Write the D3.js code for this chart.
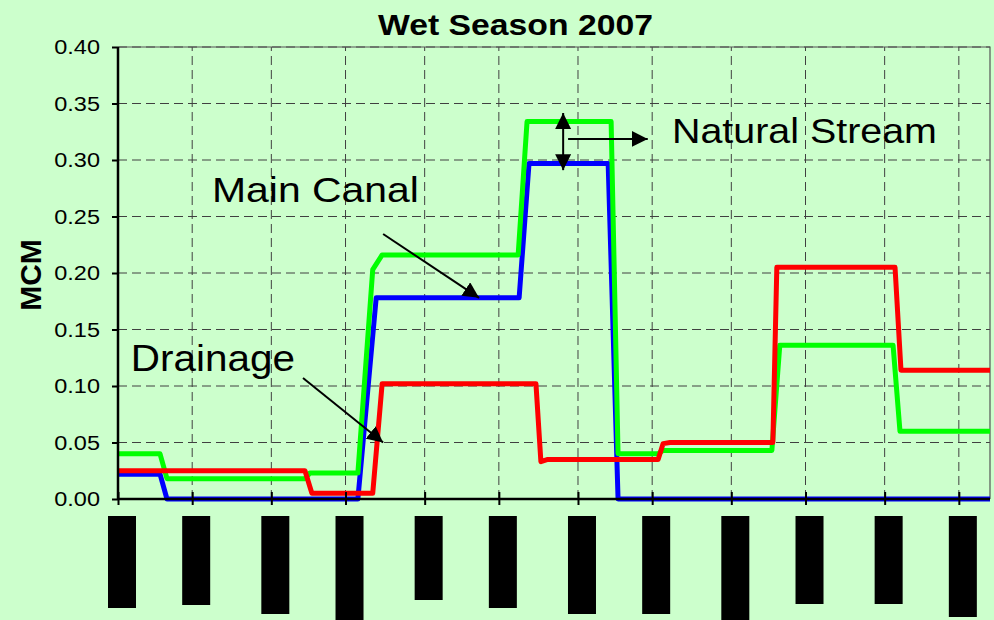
<!DOCTYPE html>
<html>
<head>
<meta charset="utf-8">
<script src="https://cdn.jsdelivr.net/npm/d3@7"></script>
<style>
body { margin: 0; background: #ccffcc; }
svg { display: block; }
text { font-family: Arial, "Liberation Sans", sans-serif; fill: #000; }
</style>
</head>
<body>
<div class="chart"></div>
<script>
var width = 994
var height = 620
var margin = {top: 47, right: 4, bottom: 121, left: 118}

// x = days since start of the season, y = MCM
var tickDays = [0, 15, 31, 46, 62, 77, 93, 108, 124, 139, 155, 170]
var yTicks = [0, 0.05, 0.10, 0.15, 0.20, 0.25, 0.30, 0.35, 0.40]
// the date labels are blacked out in the source, only the box lengths remain
var tickLabelLen = [92, 89, 98, 108, 84, 92, 98, 98, 108, 88, 88, 101]

var naturalDays = [0, 8.5, 9.9, 37.8, 38.8, 48.5, 51.5, 53.4, 80.9, 82.7, 99.7, 101.1, 109.2, 110.2, 132.2, 133.8, 156.7, 158.1, 176.3]
var naturalVals = [0.040, 0.040, 0.018, 0.018, 0.023, 0.023, 0.203, 0.216, 0.216, 0.334, 0.334, 0.040, 0.040, 0.043, 0.043, 0.136, 0.136, 0.060, 0.060]

var canalDays = [0, 8.5, 9.9, 48.5, 52.2, 81.1, 83.1, 99.1, 101.1, 176.3]
var canalVals = [0.022, 0.022, 0, 0, 0.178, 0.178, 0.297, 0.297, 0, 0]

var drainDays = [0, 37.8, 39.2, 51.5, 53.4, 84.5, 85.5, 86.9, 109.2, 110.2, 111.6, 132.4, 133.2, 157.1, 158.3, 176.3]
var drainVals = [0.025, 0.025, 0.005, 0.005, 0.102, 0.102, 0.033, 0.035, 0.035, 0.049, 0.050, 0.050, 0.205, 0.205, 0.114, 0.114]

// annotation arrows in data units: [day1, val1, day2, val2]
var arrows = [
  [53.6, 0.2345, 73.0, 0.178],
  [37.4, 0.107, 53.6, 0.050],
  [91.0, 0.3186, 107.1, 0.3186]
]
var doubleArrow = [90.0, 0.3416, 90.0, 0.291]

var svg = d3.select('.chart')
  .append('svg')
  .attr('width', width)
  .attr('height', height)

svg.append('rect')
  .attr('width', width)
  .attr('height', height)
  .style('fill', '#ccffcc')

var x = d3.scaleLinear().domain([0, 176.3]).range([margin.left, width - margin.right])
var y = d3.scaleLinear().domain([0, 0.40]).range([height - margin.bottom, margin.top])

var defs = svg.append('defs')
defs.append('marker')
  .attr('id', 'head')
  .attr('viewBox', '0 0 10 10')
  .attr('refX', 10)
  .attr('refY', 5)
  .attr('markerUnits', 'userSpaceOnUse')
  .attr('markerWidth', 16)
  .attr('markerHeight', 16)
  .attr('orient', 'auto-start-reverse')
  .append('path')
  .attr('d', 'M0,0L10,5L0,10Z')
  .style('fill', '#000')

// grid
svg.append('g')
  .selectAll('line')
  .data(yTicks.slice(1))
  .enter().append('line')
  .attr('x1', x(0))
  .attr('x2', x(176.3))
  .attr('y1', function(d) { return y(d) })
  .attr('y2', function(d) { return y(d) })
  .style('stroke', '#404040')
  .style('stroke-dasharray', '9,5')

svg.append('g')
  .selectAll('line')
  .data(tickDays.slice(1))
  .enter().append('line')
  .attr('x1', function(d) { return x(d) })
  .attr('x2', function(d) { return x(d) })
  .attr('y1', y(0))
  .attr('y2', y(0.40))
  .style('stroke', '#404040')
  .style('stroke-dasharray', '9,5')

// plot border (top, right)
svg.append('path')
  .attr('d', 'M' + x(0) + ',' + y(0.40) + 'H' + x(176.3) + 'V' + y(0))
  .style('fill', 'none')
  .style('stroke', '#555')
  .style('stroke-width', 1.2)

// series
var line = d3.line()
  .x(function(d) { return x(d[0]) })
  .y(function(d) { return y(d[1]) })

var series = [
  {days: canalDays, vals: canalVals, color: '#0000ff'},
  {days: naturalDays, vals: naturalVals, color: '#00ff00'},
  {days: drainDays, vals: drainVals, color: '#ff0000'}
]

series.forEach(function(s) {
  svg.append('path')
    .datum(d3.zip(s.days, s.vals))
    .attr('d', line)
    .style('fill', 'none')
    .style('stroke', s.color)
    .style('stroke-width', 5)
    .style('stroke-linejoin', 'round')
})

// axes
var yAxis = d3.axisLeft(y).tickValues(yTicks).tickSize(6).tickFormat(d3.format('.2f'))
var gy = svg.append('g')
  .attr('transform', 'translate(' + x(0) + ',0)')
  .call(yAxis)
gy.select('.domain').remove()
gy.selectAll('.tick line').style('stroke', '#000').style('stroke-width', 2)
gy.selectAll('.tick text').remove()
gy.selectAll('.tick').append('text')
  .attr('transform', 'translate(-18,0) scale(1.12,1)')
  .attr('dy', '0.32em')
  .attr('text-anchor', 'end')
  .style('font-size', '21px')
  .text(function(d) { return d3.format('.2f')(d) })

var xAxis = d3.axisBottom(x).tickValues(tickDays).tickSize(6).tickFormat('')
var gx = svg.append('g')
  .attr('transform', 'translate(0,' + y(0) + ')')
  .call(xAxis)
gx.select('.domain').remove()
gx.selectAll('.tick line')
  .attr('y1', -7)
  .style('stroke', '#000')
  .style('stroke-width', 2)

svg.append('line')
  .attr('x1', x(0)).attr('x2', x(176.3))
  .attr('y1', y(0)).attr('y2', y(0))
  .style('stroke', '#000').style('stroke-width', 2.5)
svg.append('line')
  .attr('x1', x(0)).attr('x2', x(0))
  .attr('y1', y(0.40)).attr('y2', y(0) + 1)
  .style('stroke', '#000').style('stroke-width', 2.5)

// redacted tick labels
svg.append('g')
  .selectAll('rect')
  .data(tickDays)
  .enter().append('rect')
  .attr('x', function(d) { return x(d) - 10 })
  .attr('y', 516)
  .attr('width', 28)
  .attr('height', function(d, i) { return tickLabelLen[i] })
  .style('fill', '#000')

// titles
svg.append('text')
  .attr('x', 378)
  .attr('y', 35)
  .attr('textLength', 275)
  .attr('lengthAdjust', 'spacingAndGlyphs')
  .style('font-size', '30px')
  .style('font-weight', 'bold')
  .text('Wet Season 2007')

svg.append('text')
  .attr('transform', 'translate(41,275) rotate(-90)')
  .attr('text-anchor', 'middle')
  .style('font-size', '30px')
  .style('font-weight', 'bold')
  .text('MCM')

// annotations
svg.append('text')
  .attr('x', x(112.0)).attr('y', y(0.315))
  .attr('textLength', 265).attr('lengthAdjust', 'spacingAndGlyphs')
  .style('font-size', '35px')
  .text('Natural Stream')

svg.append('text')
  .attr('x', x(19.0)).attr('y', y(0.263))
  .attr('textLength', 207).attr('lengthAdjust', 'spacingAndGlyphs')
  .style('font-size', '35px')
  .text('Main Canal')

svg.append('text')
  .attr('x', x(2.6)).attr('y', y(0.113))
  .attr('textLength', 164).attr('lengthAdjust', 'spacingAndGlyphs')
  .style('font-size', '36px')
  .text('Drainage')

svg.append('g')
  .selectAll('line')
  .data(arrows)
  .enter().append('line')
  .attr('x1', function(d) { return x(d[0]) })
  .attr('y1', function(d) { return y(d[1]) })
  .attr('x2', function(d) { return x(d[2]) })
  .attr('y2', function(d) { return y(d[3]) })
  .attr('marker-end', 'url(#head)')
  .style('stroke', '#000')
  .style('stroke-width', 2)

svg.append('line')
  .attr('x1', x(doubleArrow[0])).attr('y1', y(doubleArrow[1]))
  .attr('x2', x(doubleArrow[2])).attr('y2', y(doubleArrow[3]))
  .attr('marker-start', 'url(#head)')
  .attr('marker-end', 'url(#head)')
  .style('stroke', '#000')
  .style('stroke-width', 2)
</script>
</body>
</html>
